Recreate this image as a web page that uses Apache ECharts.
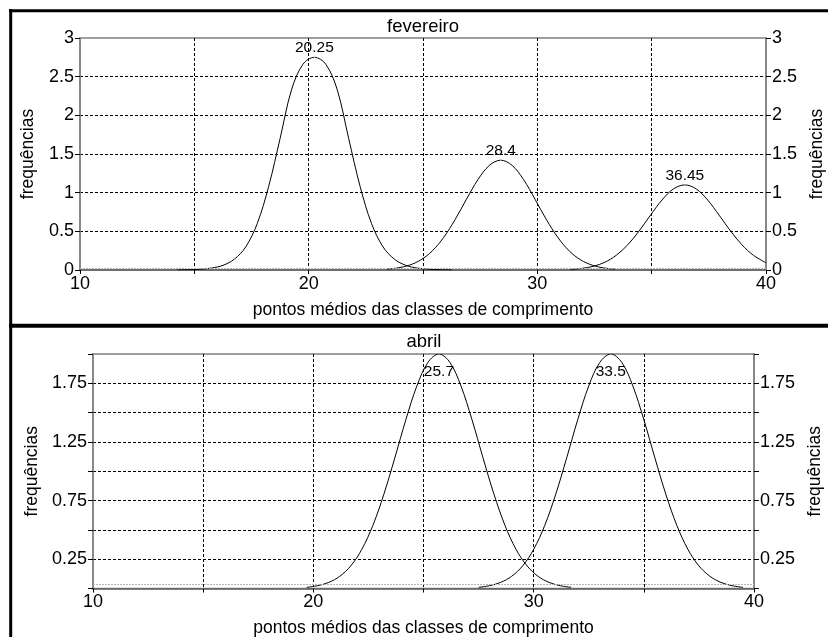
<!DOCTYPE html>
<html><head><meta charset="utf-8">
<script src="https://cdn.jsdelivr.net/npm/echarts@6/dist/echarts.min.js"></script>
<style>html,body{margin:0;padding:0;background:#fff}#c{width:828px;height:637px}</style>
</head><body><div id="c"></div>
<script>
// ---------- data ----------
const xTickLabels = [10, 20, 30, 40];
const febYTickLabels = [0, 0.5, 1, 1.5, 2, 2.5, 3];
const aprYTickLabels = [0.25, 0.75, 1.25, 1.75];

const febTitle = 'fevereiro';
const aprTitle = 'abril';
const xName = 'pontos médios das classes de comprimento';
const yName = 'frequências';

// fevereiro, curve around 20.25
const febX1 = [14.25, 14.75, 15.25, 15.75, 16.25, 16.75, 17.25, 17.75, 18.25, 18.75, 19.25, 19.75, 20.25, 20.75, 21.25, 21.75, 22.25, 22.75, 23.25, 23.75, 24.25, 24.75, 25.25, 25.75, 26.25];
const febY1 = [0.001, 0.004, 0.01, 0.025, 0.06, 0.14, 0.30, 0.60, 1.08, 1.70, 2.33, 2.66, 2.75, 2.66, 2.33, 1.70, 1.08, 0.60, 0.30, 0.14, 0.06, 0.025, 0.01, 0.004, 0.001];
// fevereiro, curve around 28.4
const febX2 = [23.4, 23.9, 24.4, 24.9, 25.4, 25.9, 26.4, 26.9, 27.4, 27.9, 28.4, 28.9, 29.4, 29.9, 30.4, 30.9, 31.4, 31.9, 32.4, 32.9, 33.4];
const febY2 = [0.011, 0.027, 0.062, 0.13, 0.245, 0.42, 0.65, 0.915, 1.168, 1.352, 1.42, 1.352, 1.168, 0.915, 0.65, 0.42, 0.245, 0.13, 0.062, 0.027, 0.011];
// fevereiro, curve around 36.45
const febX3 = [31.45, 31.95, 32.45, 32.95, 33.45, 33.95, 34.45, 34.95, 35.45, 35.95, 36.45, 36.95, 37.45, 37.95, 38.45, 38.95, 39.45, 40];
const febY3 = [0.008, 0.021, 0.048, 0.10, 0.19, 0.325, 0.504, 0.709, 0.905, 1.048, 1.10, 1.048, 0.905, 0.709, 0.504, 0.325, 0.19, 0.094];

const febPeakX = [20.25, 28.4, 36.45];
const febPeakY = [2.75, 1.42, 1.10];

// abril, curve around 25.7
const aprX1 = [19.7, 20.2, 20.7, 21.2, 21.7, 22.2, 22.7, 23.2, 23.7, 24.2, 24.7, 25.2, 25.7, 26.2, 26.7, 27.2, 27.7, 28.2, 28.7, 29.2, 29.7, 30.2, 30.7, 31.2, 31.7];
const aprY1 = [0.010, 0.024, 0.052, 0.104, 0.193, 0.334, 0.537, 0.803, 1.115, 1.44, 1.728, 1.928, 2.0, 1.928, 1.728, 1.44, 1.115, 0.803, 0.537, 0.334, 0.193, 0.104, 0.052, 0.024, 0.010];
// abril, curve around 33.5
const aprX2 = [27.5, 28.0, 28.5, 29.0, 29.5, 30.0, 30.5, 31.0, 31.5, 32.0, 32.5, 33.0, 33.5, 34.0, 34.5, 35.0, 35.5, 36.0, 36.5, 37.0, 37.5, 38.0, 38.5, 39.0, 39.5];
const aprY2 = [0.010, 0.024, 0.052, 0.104, 0.193, 0.334, 0.537, 0.803, 1.115, 1.44, 1.728, 1.928, 2.0, 1.928, 1.728, 1.44, 1.115, 0.803, 0.537, 0.334, 0.193, 0.104, 0.052, 0.024, 0.010];

const aprPeakX = [25.7, 33.5];
const aprPeakY = [2.0, 2.0];

const febBaseline = 0.022;
const aprBaseline = 0.035;

// ---------- chart ----------
const FONT = 'Liberation Sans';
const TICK_FS = 18;
const NAME_FS = 17.5;
const zip = (xs, ys) => xs.map((x, i) => [x, ys[i]]);

function xAxisFor(gridIndex) {
  return {
    type: 'value', gridIndex, min: 10, max: 40, interval: 5,
    name: xName, nameLocation: 'middle', nameGap: 31,
    nameTextStyle: { fontFamily: FONT, fontSize: NAME_FS, color: '#000' },
    axisLine: { show: true, onZero: false, lineStyle: { color: '#606060', width: 1.5 } },
    axisTick: { show: true, length: 4, lineStyle: { color: '#000' } },
    axisLabel: {
      margin: 5, fontFamily: FONT, fontSize: TICK_FS, color: '#000',
      showMinLabel: true, showMaxLabel: true,
      formatter: v => xTickLabels.includes(v) ? String(v) : ''
    },
    splitLine: { show: true, showMinLine: false, showMaxLine: false,
      lineStyle: { color: '#000', type: [3, 2], width: 1 } }
  };
}

function yAxisFor(gridIndex, max, interval, labels, position, withSplit) {
  return {
    type: 'value', gridIndex, min: 0, max, interval, position,
    name: yName, nameLocation: 'middle', nameGap: position === 'left' ? 43 : 42,
    nameTextStyle: { fontFamily: FONT, fontSize: NAME_FS, color: '#000' },
    axisLine: { show: true, lineStyle: { color: '#808080', width: 1.5 } },
    axisTick: { show: true, length: 5, lineStyle: { color: '#000' } },
    axisLabel: {
      margin: 6, fontFamily: FONT, fontSize: TICK_FS, color: '#000',
      showMinLabel: true, showMaxLabel: true,
      formatter: v => labels.includes(v) ? String(v) : ''
    },
    splitLine: { show: withSplit, showMinLine: false, showMaxLine: false,
      lineStyle: { color: '#000', type: [3, 2], width: 1 } }
  };
}

function curve(xs, ys, xi, yi, baseline) {
  const s = {
    type: 'line', xAxisIndex: xi, yAxisIndex: yi,
    data: zip(xs, ys), smooth: 0.35, showSymbol: false, symbol: 'none',
    lineStyle: { color: '#000', width: 1 }, silent: true, z: 3
  };
  if (baseline !== undefined) {
    s.markLine = {
      silent: true, symbol: ['none', 'none'], label: { show: false },
      lineStyle: { color: '#b4b4b4', type: [2, 1], width: 1 },
      data: [{ yAxis: baseline }], animation: false
    };
  }
  return s;
}

function peaks(xs, ys, xi, yi, pos, dist) {
  return {
    type: 'scatter', xAxisIndex: xi, yAxisIndex: yi,
    data: zip(xs, ys), symbolSize: 1, itemStyle: { color: '#fff', opacity: 1, borderWidth: 0 },
    silent: true, z: 4,
    label: { show: true, position: pos, distance: dist, fontFamily: FONT, fontSize: 15.5, color: '#000', opacity: 1,
      formatter: p => String(p.value[0]) }
  };
}

const chart = echarts.init(document.getElementById('c'), null, { renderer: 'canvas' });
chart.setOption({
  animation: false,
  backgroundColor: '#fff',
  grid: [
    { left: 80, right: 62, top: 38, bottom: 367, show: true, borderColor: '#808080', borderWidth: 1.5, containLabel: false, outerBoundsMode: 'none' },
    { left: 93, right: 74, top: 354, bottom: 48.5, show: true, borderColor: '#808080', borderWidth: 1.5, containLabel: false, outerBoundsMode: 'none' }
  ],
  xAxis: [xAxisFor(0), xAxisFor(1)],
  yAxis: [
    yAxisFor(0, 3, 0.5, febYTickLabels, 'left', true),
    yAxisFor(0, 3, 0.5, febYTickLabels, 'right', false),
    yAxisFor(1, 2, 0.25, aprYTickLabels, 'left', true),
    yAxisFor(1, 2, 0.25, aprYTickLabels, 'right', false)
  ],
  series: [
    curve(febX1, febY1, 0, 0, febBaseline),
    curve(febX2, febY2, 0, 0),
    curve(febX3, febY3, 0, 0),
    peaks(febPeakX, febPeakY, 0, 0, 'top', 1),
    curve(aprX1, aprY1, 1, 2, aprBaseline),
    curve(aprX2, aprY2, 1, 2),
    peaks(aprPeakX, aprPeakY, 1, 2, 'bottom', 9)
  ],
  graphic: [
    { type: 'text', x: 423, y: 27, silent: true,
      style: { text: febTitle, font: '18.5px "Liberation Sans"', fill: '#000', align: 'center', verticalAlign: 'middle' } },
    { type: 'text', x: 424, y: 342, silent: true,
      style: { text: aprTitle, font: '18.5px "Liberation Sans"', fill: '#000', align: 'center', verticalAlign: 'middle' } },
    { type: 'line', silent: true, shape: { x1: 9, y1: 10.7, x2: 828, y2: 10.7 }, style: { stroke: '#000', lineWidth: 3 } },
    { type: 'line', silent: true, shape: { x1: 10.7, y1: 9, x2: 10.7, y2: 637 }, style: { stroke: '#000', lineWidth: 3 } },
    { type: 'line', silent: true, shape: { x1: 9, y1: 325.7, x2: 828, y2: 325.7 }, style: { stroke: '#000', lineWidth: 4 } }
  ]
});
</script>
</body></html>
